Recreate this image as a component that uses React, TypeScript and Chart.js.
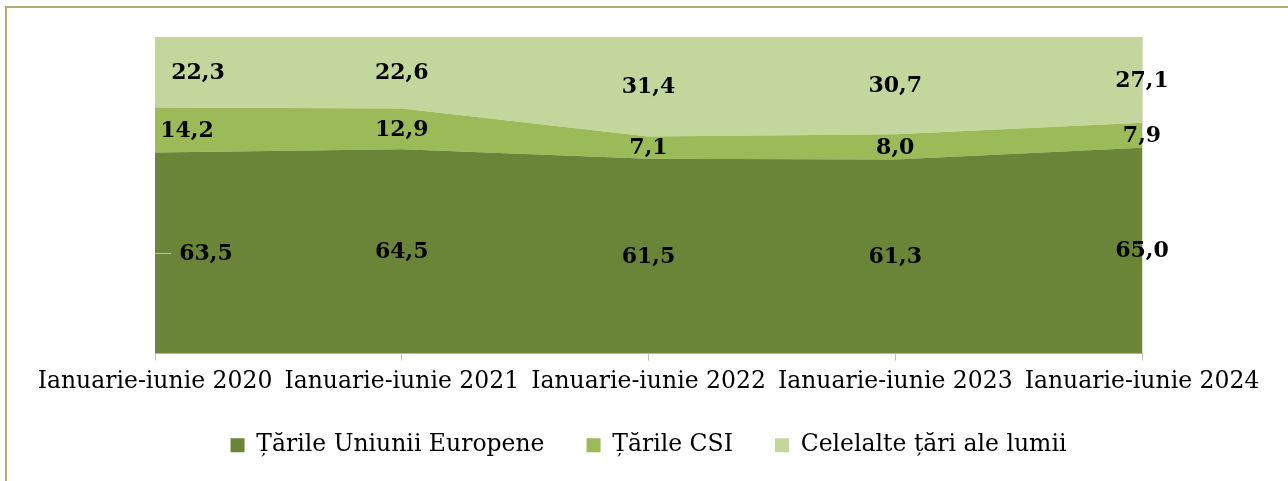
import React, { useEffect, useRef } from "react";
import { Chart, registerables } from "chart.js";

Chart.register(...registerables);

const categories = [
  "Ianuarie-iunie 2020",
  "Ianuarie-iunie 2021",
  "Ianuarie-iunie 2022",
  "Ianuarie-iunie 2023",
  "Ianuarie-iunie 2024",
];
const seriesNames = ["Țările Uniunii Europene", "Țările CSI", "Celelalte țări ale lumii"];
const euValues = [63.5, 64.5, 61.5, 61.3, 65.0];
const csiValues = [14.2, 12.9, 7.1, 8.0, 7.9];
const otherValues = [22.3, 22.6, 31.4, 30.7, 27.1];
const yTicks = [0, 20, 40, 60, 80, 100];

const COLORS = ["#6A8538", "#9BBB59", "#C3D79D"];
const FONT = "'DejaVu Serif', serif";
const FIRST_SHIFT = [51, 32, 43];

const labelPlugin = {
  id: "areaLabels",
  afterLayout(chart: any) {
    const x = chart.scales.x;
    if (x) x.bottom = x.top + 60;
  },
  afterDatasetsDraw(chart: any) {
    const ctx = chart.ctx;
    const yScale = chart.scales.y;
    ctx.save();
    ctx.font = `bold 22px ${FONT}`;
    ctx.fillStyle = "#000";
    ctx.textAlign = "center";
    ctx.textBaseline = "middle";
    chart.data.datasets.forEach((ds: any, di: number) => {
      const meta = chart.getDatasetMeta(di);
      const prev = di > 0 ? chart.getDatasetMeta(di - 1) : null;
      meta.data.forEach((pt: any, i: number) => {
        const top = pt.y;
        const base = prev ? prev.data[i].y : yScale.getPixelForValue(0);
        const mid = (top + base) / 2;
        let x = pt.x;
        if (i === 0) x += FIRST_SHIFT[di];
        const txt = Number(ds.data[i]).toFixed(1).replace(".", ",");
        ctx.fillText(txt, x, mid + 1);
        if (i === 0 && di === 0) {
          const w = ctx.measureText(txt).width;
          ctx.strokeStyle = "#bfbfbf";
          ctx.lineWidth = 1;
          ctx.beginPath();
          ctx.moveTo(pt.x, Math.round(mid) + 0.5);
          ctx.lineTo(x - w / 2 - 8, Math.round(mid) + 0.5);
          ctx.stroke();
        }
      });
    });
    ctx.restore();
  },
};

export default function App() {
  const ref = useRef<HTMLCanvasElement | null>(null);
  useEffect(() => {
    document.body.style.margin = "0";
    Chart.defaults.font.family = FONT;
    const values = [euValues, csiValues, otherValues];
    const chart = new Chart(ref.current as HTMLCanvasElement, {
      type: "line",
      data: {
        labels: categories,
        datasets: seriesNames.map((name, i) => ({
          label: name,
          data: values[i],
          backgroundColor: COLORS[i],
          borderColor: COLORS[i],
          borderWidth: 0,
          pointRadius: 0,
          pointHoverRadius: 0,
          tension: 0,
          fill: i === 0 ? "origin" : "-1",
        })),
      },
      options: {
        responsive: false,
        animation: false,
        events: [],
        layout: { padding: { left: 155, right: 146, top: 37, bottom: 14 } },
        scales: {
          x: {
            offset: false,
            afterFit: (axis: any) => {
              axis.height = 38;
            },
            grid: {
              color: "#d9d9d9",
              drawTicks: true,
              tickLength: 7,
              tickColor: "#bfbfbf",
            },
            border: { display: true, color: "#bfbfbf" },
            ticks: {
              color: "#000",
              font: { size: 23.5, family: FONT },
              padding: 7,
              maxRotation: 0,
              autoSkip: false,
            },
          },
          y: {
            stacked: true,
            min: 0,
            max: 100,
            afterBuildTicks: (axis: any) => {
              axis.ticks = yTicks.map((v) => ({ value: v }));
            },
            grid: { color: "#d9d9d9", drawTicks: false },
            border: { display: false },
            ticks: { display: false },
          },
        },
        plugins: {
          legend: {
            position: "bottom",
            labels: {
              color: "#000",
              font: { size: 23.5, family: FONT },
              boxWidth: 14,
              boxHeight: 14,
              padding: 42,
            },
          },
          tooltip: { enabled: false },
        },
      },
      plugins: [labelPlugin],
    });
    return () => chart.destroy();
  }, []);

  return (
    <div style={{ position: "absolute", left: 0, top: 0, width: 1288, height: 481, background: "#fff" }}>
      <div
        style={{
          position: "absolute",
          left: 5,
          top: 6,
          width: 1300,
          height: 500,
          borderTop: "2px solid #b5a871",
          borderLeft: "2px solid #b5a871",
        }}
      />
      <canvas ref={ref} width={1288} height={481} style={{ position: "absolute", left: 0, top: 0 }} />
    </div>
  );
}
